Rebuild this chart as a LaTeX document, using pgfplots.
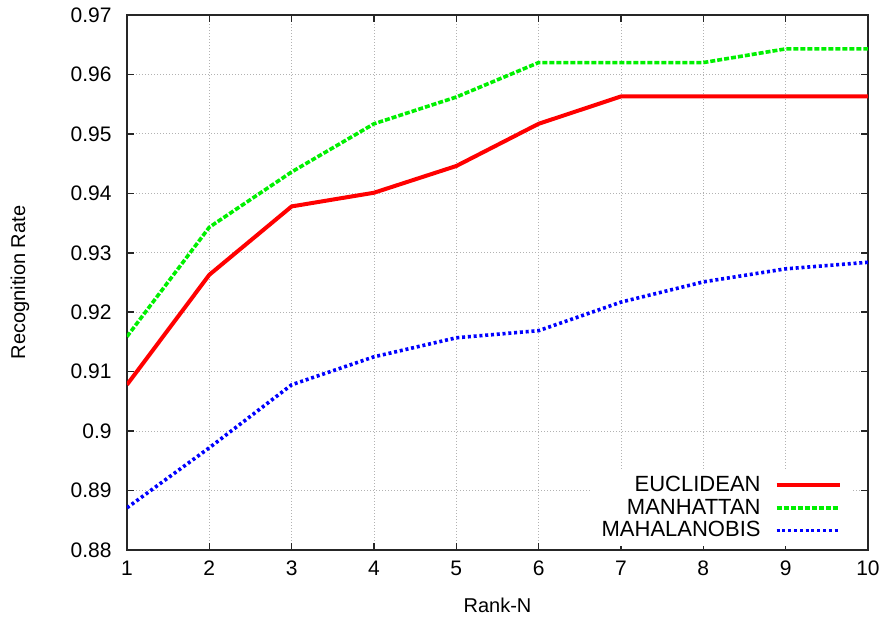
\documentclass[border=0pt]{standalone}
\usepackage{fontspec}
\setmainfont{Liberation Sans}
\usepackage{pgfplots}
\pgfplotsset{compat=1.18}
\definecolor{gpred}{RGB}{255,0,0}
\definecolor{gpgreen}{RGB}{0,240,0}
\definecolor{gpblue}{RGB}{0,0,255}
\begin{document}
\begin{tikzpicture}
\begin{axis}[
  at={(0,0)}, anchor=south west,
  scale only axis, width=370.5pt, height=267.5pt,
  xmin=1, xmax=10, ymin=0.88, ymax=0.97,
  xtick={1,...,10},
  ytick={0.88,0.89,0.90,0.91,0.92,0.93,0.94,0.95,0.96,0.97},
  scaled ticks=false,
  yticklabel style={/pgf/number format/fixed, /pgf/number format/precision=2},
  /pgf/number format/assume math mode=true,
  tick align=inside, xtick pos=both, ytick pos=both,
  major tick length=3.5pt,
  axis line style={line width=0.8pt, black!85},
  every tick/.style={line width=0.8pt, black!85},
  grid=major,
  major grid style={gray!60, line width=0.4pt, dash pattern=on 0.5pt off 1pt},
  tick label style={font=\fontsize{10.5}{12}\selectfont, inner sep=0pt},
  xticklabel style={yshift=-5.3pt},
  yticklabel style={xshift=-7.5pt},
  xlabel={Rank-N}, ylabel={Recognition Rate},
  label style={font=\fontsize{11}{13}\selectfont},
  every axis x label/.style={at={([yshift=-27.5pt]axis description cs:0.5,0)}, anchor=center},
  every axis y label/.style={at={([xshift=-53.5pt]axis description cs:0,0.5)}, anchor=center, rotate=90},
  legend cell align=right, legend plot pos=right,
  legend image code/.code={\draw[#1] (0pt,0pt) -- (31.5pt,0pt);},
  legend style={at={(rel axis cs:1,0)}, anchor=south east, xshift=-7.5pt, yshift=2pt,
    draw=none, fill=white, inner xsep=5.5pt, inner ysep=2pt,
    font=\fontsize{11}{13}\selectfont, /tikz/column sep=7pt, /tikz/row sep=0pt,
    nodes={inner sep=0pt, text height=8.75pt, text depth=2.5pt}},
]
% EUCLIDEAN
\addplot[gpred, line width=2pt, line join=round] coordinates {
  (1,0.9078) (2,0.9263) (3,0.9378) (4,0.9401) (5,0.9446)
  (6,0.9517) (7,0.9563) (8,0.9563) (9,0.9563) (10,0.9563)
};
\addlegendentry{EUCLIDEAN}
% MANHATTAN
\addplot[gpgreen, line width=1.8pt, dash pattern=on 2.5pt off 1pt] coordinates {
  (1,0.9159) (2,0.9343) (3,0.9436) (4,0.9517) (5,0.9562)
  (6,0.9620) (7,0.9620) (8,0.9620) (9,0.9643) (10,0.9643)
};
\addlegendentry{MANHATTAN}
% MAHALANOBIS
\addplot[gpblue, line width=1.8pt, dash pattern=on 1.5pt off 1.4pt] coordinates {
  (1,0.8871) (2,0.8972) (3,0.9078) (4,0.9125) (5,0.9157)
  (6,0.9169) (7,0.9217) (8,0.9251) (9,0.9273) (10,0.9284)
};
\addlegendentry{MAHALANOBIS}
\end{axis}
\pgfresetboundingbox
\path[use as bounding box] (-63.5pt,-34.5pt) rectangle (380pt,275pt);
\end{tikzpicture}
\end{document}
